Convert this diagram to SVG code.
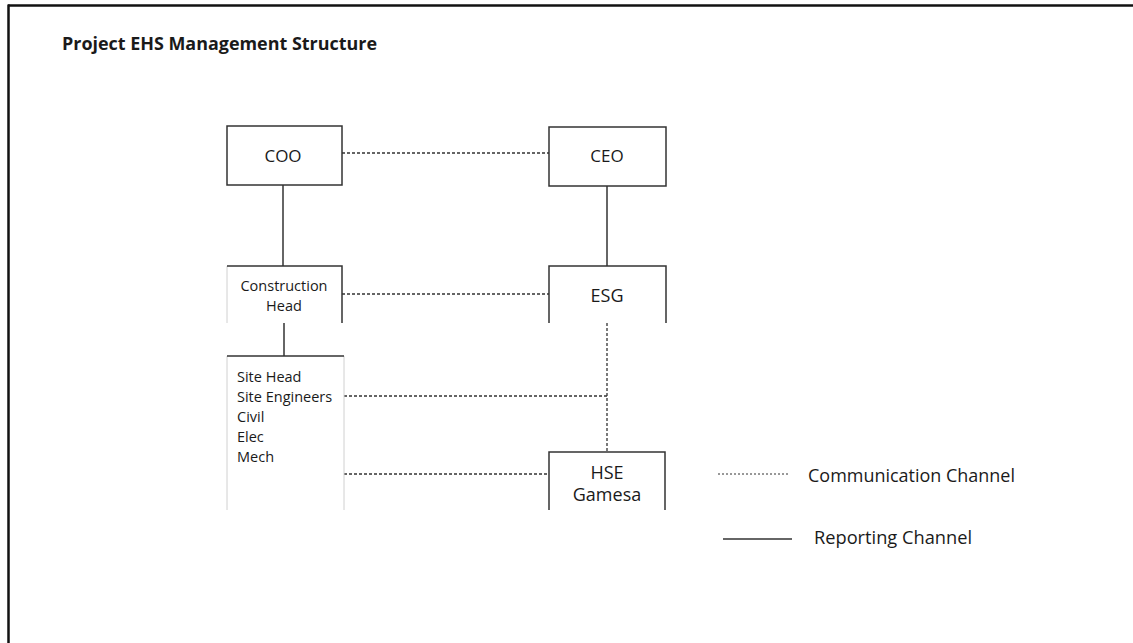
<svg xmlns="http://www.w3.org/2000/svg" width="1133" height="643" viewBox="0 0 1133 643">
<style>
  text { font-family: "Open Sans", "Noto Sans", sans-serif; fill: #1a1a1a; }
  .box { fill: none; stroke: #333; stroke-width: 1.5; }
  .faint { fill: none; stroke: #d0d0d0; stroke-width: 1; }
  .solid { stroke: #333; stroke-width: 1.5; fill: none; }
  .dash { stroke: #333; stroke-width: 1.3; stroke-dasharray: 3 2; fill: none; }
  .lbl { font-size: 17px; text-anchor: middle; }
  .sm { font-size: 14.5px; }
</style>
<rect x="0" y="0" width="1133" height="643" fill="#ffffff"/>
<g id="frame">
  <line x1="8" y1="5.5" x2="1133" y2="5.5" stroke="#111" stroke-width="2.5"/>
  <line x1="8.5" y1="4.5" x2="8.5" y2="643" stroke="#111" stroke-width="2.5"/>
</g>
<text id="title" x="62" y="50" font-size="17.5" font-weight="bold" textLength="315" lengthAdjust="spacingAndGlyphs">Project EHS Management Structure</text>

<g id="connectors">
  <line class="dash" x1="342" y1="153" x2="549" y2="153"/>
  <line class="solid" x1="283" y1="185" x2="283" y2="266"/>
  <line class="solid" x1="607" y1="186" x2="607" y2="266"/>
  <line class="dash" x1="342" y1="294" x2="549" y2="294"/>
  <line class="solid" x1="284" y1="323" x2="284" y2="356"/>
  <line class="dash" x1="607" y1="323" x2="607" y2="452"/>
  <line class="dash" x1="344" y1="396" x2="607" y2="396"/>
  <line class="dash" x1="344" y1="474" x2="549" y2="474"/>
</g>

<g id="coo">
  <rect class="box" x="227" y="126" width="115" height="59"/>
  <text class="lbl" x="283" y="162">COO</text>
</g>
<g id="ceo">
  <rect class="box" x="549" y="127" width="117" height="59"/>
  <text class="lbl" x="607" y="162">CEO</text>
</g>
<g id="construction-head">
  <line class="faint" x1="227" y1="266" x2="227" y2="323"/>
  <path class="box" d="M227,266 H342 V323"/>
  <text class="sm" x="284" y="291" text-anchor="middle">Construction</text>
  <text class="sm" x="284" y="311" text-anchor="middle">Head</text>
</g>
<g id="esg">
  <path class="box" d="M549,323 V266 H666 V323"/>
  <text x="607" y="302" font-size="18" text-anchor="middle">ESG</text>
</g>
<g id="site">
  <line class="faint" x1="227" y1="356" x2="227" y2="510"/>
  <line class="faint" x1="344" y1="356" x2="344" y2="510"/>
  <line class="box" x1="227" y1="356" x2="344" y2="356"/>
  <text class="sm" x="237" y="382">Site Head</text>
  <text class="sm" x="237" y="402">Site Engineers</text>
  <text class="sm" x="237" y="422">Civil</text>
  <text class="sm" x="237" y="442">Elec</text>
  <text class="sm" x="237" y="462">Mech</text>
</g>
<g id="hse">
  <path class="box" d="M549,510 V452 H665 V510"/>
  <text x="607" y="479" font-size="18" text-anchor="middle">HSE</text>
  <text x="607" y="501" font-size="18" text-anchor="middle">Gamesa</text>
</g>
<g id="legend">
  <line x1="718" y1="474" x2="790" y2="474" stroke="#333" stroke-width="1" stroke-dasharray="2 2"/>
  <text x="808" y="482" font-size="17.5" textLength="207" lengthAdjust="spacingAndGlyphs">Communication Channel</text>
  <line x1="723" y1="539" x2="792" y2="539" stroke="#333" stroke-width="1.3"/>
  <text x="814" y="544" font-size="17.5" textLength="158" lengthAdjust="spacingAndGlyphs">Reporting Channel</text>
</g>
</svg>
